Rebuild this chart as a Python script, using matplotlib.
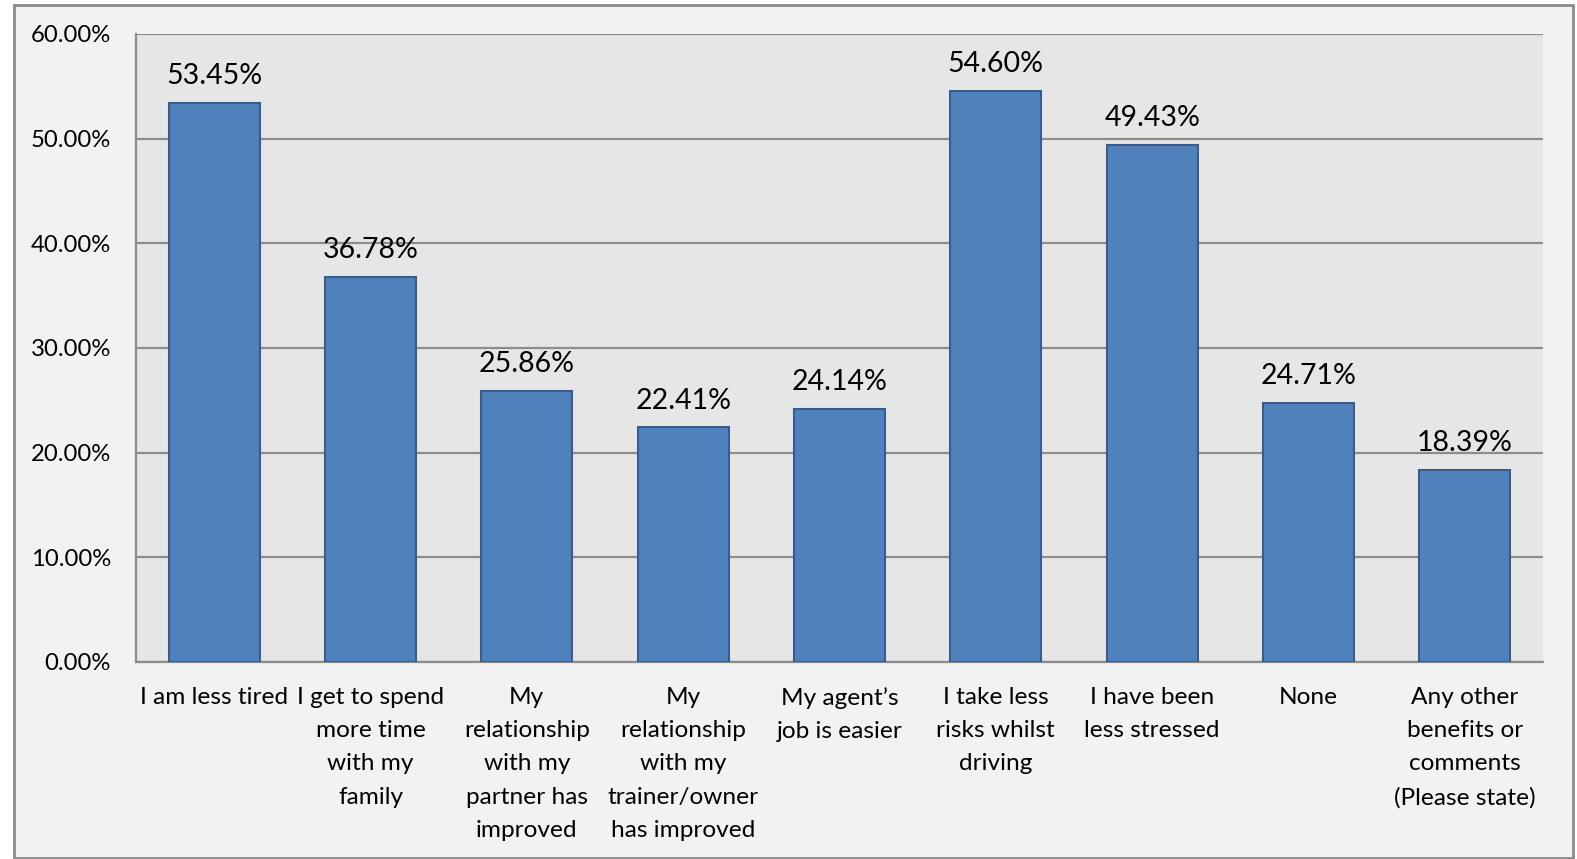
import matplotlib.pyplot as plt
from matplotlib.patches import Rectangle
from matplotlib.ticker import FuncFormatter

categories = [
  "I am less tired",
  "I get to spend\nmore time\nwith my\nfamily",
  "My\nrelationship\nwith my\npartner has\nimproved",
  "My\nrelationship\nwith my\ntrainer/owner\nhas improved",
  "My agent\u2019s\njob is easier",
  "I take less\nrisks whilst\ndriving",
  "I have been\nless stressed",
  "None",
  "Any other\nbenefits or\ncomments\n(Please state)",
]
values = [53.45, 36.78, 25.86, 22.41, 24.14, 54.60, 49.43, 24.71, 18.39]
yticks = [0, 10, 20, 30, 40, 50, 60]

plt.rcParams['font.family'] = ['Lato', 'DejaVu Sans']

W, H = 1577, 859
fig = plt.figure(figsize=(W / 100, H / 100), dpi=100)
fig.patch.set_facecolor('white')

# Outer chart frame, kept behind the axes
frame = Rectangle((14 / W, 1 - 858 / H), (1573 - 14) / W, (858 - 5) / H,
                  transform=fig.transFigure, facecolor='#F2F2F2',
                  edgecolor='#8C8C8C', linewidth=2, zorder=-10)
fig.patches.append(frame)

ax = fig.add_axes([136 / W, 1 - 662 / H, (1543 - 136) / W, (662 - 34) / H])
ax.set_facecolor('#E6E6E6')

x = range(len(categories))
bars = ax.bar(x, values, width=0.58, color='#4F81BD', edgecolor='#385D8A',
              linewidth=1.5, zorder=3)

for b, v in zip(bars, values):
  ax.annotate("%.2f%%" % v, (b.get_x() + b.get_width() / 2, v),
              xytext=(0, 10), textcoords='offset points',
              ha='center', va='bottom', fontsize=20.5, color='black')

ax.set_xlim(-0.5, len(categories) - 0.5)
ax.set_ylim(0, 60)
ax.set_yticks(yticks)
ax.yaxis.set_major_formatter(FuncFormatter(lambda v, p: "%.2f%%" % v))
ax.set_xticks(list(x))
ax.set_xticklabels(categories, fontsize=17.6, linespacing=1.72, va='top')
ax.tick_params(axis='y', length=0, pad=18, labelsize=17.2)
ax.tick_params(axis='x', length=0, pad=18)

ax.grid(axis='y', color='#8C8C8C', linewidth=1.6, zorder=1)
ax.set_axisbelow(True)
for side in ['top', 'right']:
  ax.spines[side].set_visible(False)
for side in ['left', 'bottom']:
  ax.spines[side].set_color('#8C8C8C')
  ax.spines[side].set_linewidth(1.6)

fig.savefig('out.png', dpi=100)
